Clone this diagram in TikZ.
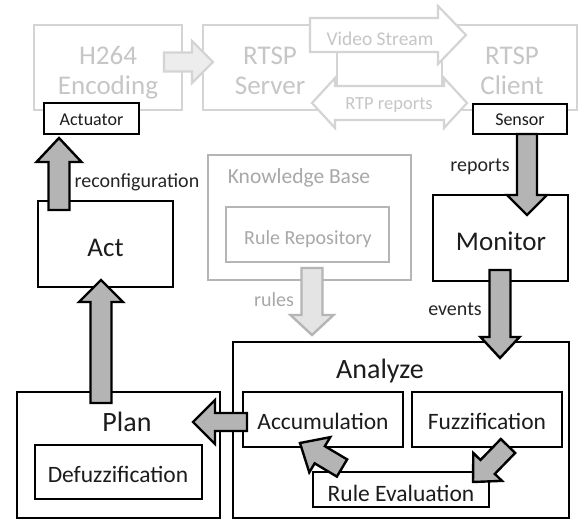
\documentclass[tikz,border=0pt]{standalone}
\usepackage{fontspec}
\setmainfont{Carlito}
\usetikzlibrary{calc,shadows,fit}

\definecolor{faint}{HTML}{D4D4D4}
\definecolor{fainttext}{HTML}{C6C6C6}
\definecolor{faintfill}{HTML}{EDEDED}
\definecolor{kb}{HTML}{B5B5B5}
\definecolor{kbtext}{HTML}{A8A8A8}
\definecolor{kbfill}{HTML}{E4E4E4}
\definecolor{arrowfill}{HTML}{B4B4B4}
\definecolor{ink}{HTML}{1C1C1C}

\newdimen\bax
\newdimen\bay
% [style]{tail}{tip}{shaft half width}{head half width}{head length}
\newcommand\blockarrow[6][]{%
  \pgfextractx{\bax}{\pgfpointdiff{\pgfpointanchor{#2}{center}}{\pgfpointanchor{#3}{center}}}%
  \pgfextracty{\bay}{\pgfpointdiff{\pgfpointanchor{#2}{center}}{\pgfpointanchor{#3}{center}}}%
  \pgfmathsetmacro\baang{atan2(\bay,\bax)}%
  \pgfmathsetmacro\balen{veclen(\bax,\bay)}%
  \begin{scope}[shift={(#2)}, rotate=\baang]
    \draw[#1] (0pt,-#4pt) -- (\balen pt-#6pt,-#4pt) -- (\balen pt-#6pt,-#5pt)
      -- (\balen pt,0pt) -- (\balen pt-#6pt,#5pt) -- (\balen pt-#6pt,#4pt)
      -- (0pt,#4pt) -- cycle;
  \end{scope}%
}
\newcommand\dblarrow[6][]{%
  \pgfextractx{\bax}{\pgfpointdiff{\pgfpointanchor{#2}{center}}{\pgfpointanchor{#3}{center}}}%
  \pgfextracty{\bay}{\pgfpointdiff{\pgfpointanchor{#2}{center}}{\pgfpointanchor{#3}{center}}}%
  \pgfmathsetmacro\baang{atan2(\bay,\bax)}%
  \pgfmathsetmacro\balen{veclen(\bax,\bay)}%
  \begin{scope}[shift={(#2)}, rotate=\baang]
    \draw[#1] (#6pt,-#4pt) -- (\balen pt-#6pt,-#4pt) -- (\balen pt-#6pt,-#5pt)
      -- (\balen pt,0pt) -- (\balen pt-#6pt,#5pt) -- (\balen pt-#6pt,#4pt)
      -- (#6pt,#4pt) -- (#6pt,#5pt) -- (0pt,0pt) -- (#6pt,-#5pt) -- cycle;
  \end{scope}%
}

\tikzset{
  shadowed/.style={drop shadow={shadow xshift=1.3pt, shadow yshift=-1.3pt, opacity=0.35, fill=black!70}},
  darkbox/.style={draw=black, line width=2.6pt, fill=white, inner sep=0pt, shadowed},
  innerbox/.style={draw=black, line width=2.4pt, fill=white, inner sep=0pt, shadowed},
  faintbox/.style={draw=faint, line width=2.4pt, fill=white, inner sep=0pt},
  kbbox/.style={draw=kb, line width=2.6pt, fill=white, inner sep=0pt},
  darkarrow/.style={draw=black, line width=2.4pt, fill=arrowfill, line join=miter},
  faintarrow/.style={draw=faint, line width=2.2pt, fill=faintfill, line join=miter},
  whitearrow/.style={draw=faint, line width=2.2pt, fill=white, line join=miter},
  kbarrow/.style={draw=kb, line width=2.4pt, fill=kbfill, line join=miter},
  txt/.style={anchor=base, inner sep=0pt, text=ink},
  big/.style={txt, font=\fontsize{27}{31}\selectfont},
  bigger/.style={txt, font=\fontsize{28}{32}\selectfont},
  mid/.style={txt, font=\fontsize{23.5}{27}\selectfont},
  lab/.style={txt, font=\fontsize{20}{24}\selectfont, text=black!85},
  small/.style={txt, font=\fontsize{18}{22}\selectfont},
  fainttxt/.style={text=fainttext},
}

\begin{document}
\begin{tikzpicture}[x=1pt,y=-1pt]
\useasboundingbox (0,0) rectangle (585,521);
\fill[white] (0,0) rectangle (585,521);

% ---- faint top row ----
\node[faintbox, fit={(34,25) (182,110)}] (h264) {};
\node[faintbox, fit={(203,25) (337,110)}] (server) {};
\node[faintbox, fit={(442,25) (577,110)}] (client) {};
\node[big, fainttxt] (h264a) at (108,65) {H264};
\node[big, fainttxt] (h264b) at (108,95) {Encoding};
\node[big, fainttxt] (srva) at (270,65) {RTSP};
\node[big, fainttxt] (srvb) at (270,95) {Server};
\node[big, fainttxt] (clia) at (512,65) {RTSP};
\node[big, fainttxt] (clib) at (512,95) {Client};

\coordinate (e1) at (164,62);
\coordinate (e2) at (213,62);
\blockarrow[faintarrow]{e1}{e2}{9.5}{21}{21}
\coordinate (v1) at (310,35);
\coordinate (v2) at (466,35);
\blockarrow[whitearrow]{v1}{v2}{17}{29}{28}
\node[txt, fainttxt, font=\fontsize{19.5}{23}\selectfont] (vs) at (380,46) {Video Stream};
\coordinate (r1) at (312,103);
\coordinate (r2) at (467,103);
\dblarrow[whitearrow]{r1}{r2}{17}{25}{23}
\node[txt, fainttxt, font=\fontsize{18.5}{22}\selectfont] (rtp) at (389,110) {RTP reports};

% ---- actuator / sensor ----
\node[darkbox, fit={(44,103) (139,134)}] (actuator) {};
\node[small] at (91.5,126) {Actuator};
\node[darkbox, fit={(473,104) (567,134)}] (sensor) {};
\node[small] at (520,126) {Sensor};

% ---- knowledge base ----
\node[kbbox, fit={(208,155) (411,280)}] (kbase) {};
\node[txt, text=kbtext, font=\fontsize{21.5}{25}\selectfont] at (299,184) {Knowledge Base};
\node[kbbox, line width=2.4pt, fit={(226,207) (389,262)}] (repo) {};
\node[txt, text=kbtext, font=\fontsize{20}{24}\selectfont] at (308,244) {Rule Repository};

% ---- MAPE boxes ----
\node[darkbox, fit={(38,201) (173,287)}] (act) {};
\node[big] at (105.5,256) {Act};
\node[darkbox, fit={(433,195) (568,281)}] (monitor) {};
\node[big] at (501,250) {Monitor};
\node[darkbox, fit={(17,392) (220,518)}] (plan) {};
\node[bigger] at (127,431) {Plan};
\node[innerbox, fit={(35,445) (202,499)}] (defuzz) {};
\node[mid] at (118,482) {Defuzzification};
\node[darkbox, fit={(233,342) (569,518)}] (analyze) {};
\node[bigger] at (380,378) {Analyze};
\node[innerbox, fit={(243,392) (403,447)}] (accum) {};
\node[mid] at (323,429) {Accumulation};
\node[innerbox, fit={(412,392) (562,447)}] (fuzz) {};
\node[mid] at (487,429) {Fuzzification};
\node[innerbox, fit={(313,472) (489,507)}] (ruleeval) {};
\node[mid] at (401,501) {Rule Evaluation};

% ---- arrows ----
\coordinate (a1) at (59,210);
\coordinate (a2) at (59,138);
\blockarrow[darkarrow]{a1}{a2}{10.5}{22.5}{24}
\node[lab] at (137,188) {reconfiguration};

\coordinate (p1) at (101,403);
\coordinate (p2) at (101,280);
\blockarrow[darkarrow]{p1}{p2}{10.5}{22}{22}

\coordinate (k1) at (312,268);
\coordinate (k2) at (312,335);
\blockarrow[kbarrow]{k1}{k2}{10.5}{21.5}{20}
\node[lab, text=kbtext] at (274,306) {rules};

\coordinate (s1) at (527,134);
\coordinate (s2) at (527,215);
\blockarrow[darkarrow]{s1}{s2}{10}{20}{20}
\node[lab] at (480,172) {reports};

\coordinate (m1) at (500,270);
\coordinate (m2) at (500,358);
\blockarrow[darkarrow]{m1}{m2}{10.5}{19.5}{21}
\node[lab] at (455,315) {events};

\coordinate (c1) at (247,422);
\coordinate (c2) at (193,422);
\blockarrow[darkarrow]{c1}{c2}{9}{22}{22}

\coordinate (f1) at (508,446);
\coordinate (f2) at (473,482);
\blockarrow[darkarrow]{f1}{f2}{10}{20}{21}

\coordinate (q1) at (342,468);
\coordinate (q2) at (300,443);
\blockarrow[darkarrow]{q1}{q2}{10}{20.5}{23}
\end{tikzpicture}
\end{document}
